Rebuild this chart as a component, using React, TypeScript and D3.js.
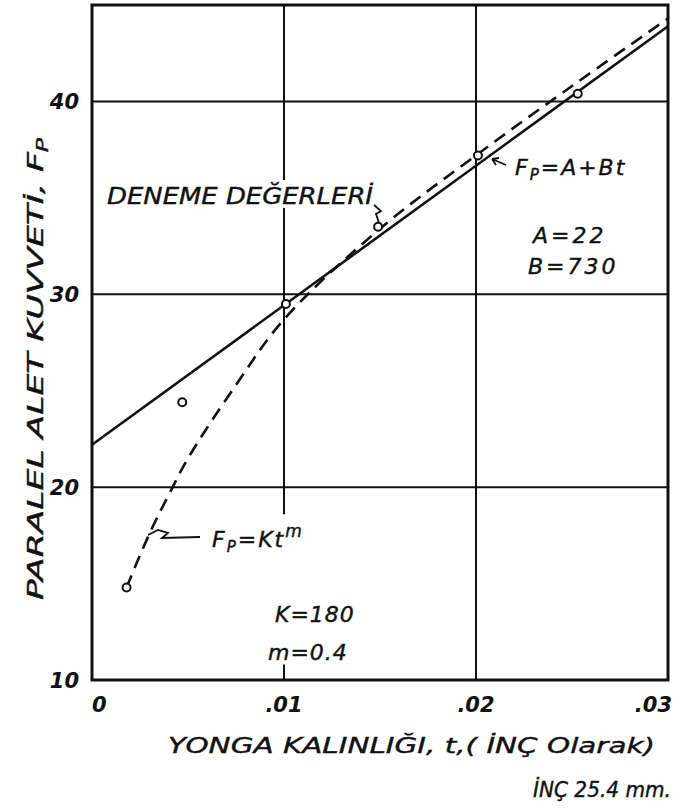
import React from "react";
import * as d3 from "d3";

const xTicks = [0, 0.01, 0.02, 0.03];
const xTickLabels = ["0", ".01", ".02", ".03"];
const yTicks = [10, 20, 30, 40];
const yTickLabels = ["10", "20", "30", "40"];
const gridX = [0.01, 0.02];
const gridY = [20, 30, 40];

// measured test points (t, Fp)
const testT = [0.0018, 0.0047, 0.0101, 0.0149, 0.0201, 0.0253];
const testF = [14.8, 24.4, 29.5, 33.5, 37.2, 40.4];

// straight fit Fp = A + B t, read at ends
const linT = [0, 0.03];
const linF = [22.2, 43.9];

// power fit Fp = K t^m
const powT = [0.0018, 0.003, 0.0042, 0.005, 0.0075, 0.01, 0.015, 0.02, 0.025, 0.03];
const powF = [14.8, 17.6, 20.0, 21.5, 25.3, 28.7, 33.4, 37.2, 40.8, 44.3];

const FONT = "'DejaVu Sans', sans-serif";

export default function App() {
  const x = d3.scaleLinear().domain([0, 0.03]).range([92, 668]);
  const y = d3.scaleLinear().domain([10, 45]).range([680, 5]);

  const line = d3
    .line<[number, number]>()
    .x((d) => x(d[0]))
    .y((d) => y(d[1]));
  const curve = d3
    .line<[number, number]>()
    .x((d) => x(d[0]))
    .y((d) => y(d[1]))
    .curve(d3.curveCatmullRom.alpha(0.5));

  const linePts = linT.map((t, i) => [t, linF[i]] as [number, number]);
  const powPts = powT.map((t, i) => [t, powF[i]] as [number, number]);

  const txt = {
    fontFamily: FONT,
    fontStyle: "italic" as const,
    fill: "#111",
  };

  return (
    <svg
      width={684}
      height={811}
      style={{ position: "absolute", left: 0, top: 0, background: "#fff" }}
    >
      <rect x={0} y={0} width={684} height={811} fill="#fff" />
      {/* grid */}
      {gridY.map((v) => (
        <line key={"gy" + v} x1={x(0)} x2={x(0.03)} y1={y(v)} y2={y(v)} stroke="#111" strokeWidth={2} />
      ))}
      <line x1={x(gridX[0])} x2={x(gridX[0])} y1={y(45)} y2={y(18.6)} stroke="#111" strokeWidth={2} />
      <line x1={x(gridX[0])} x2={x(gridX[0])} y1={y(10.8)} y2={y(10)} stroke="#111" strokeWidth={2} />
      <line x1={x(gridX[1])} x2={x(gridX[1])} y1={y(45)} y2={y(10)} stroke="#111" strokeWidth={2} />
      {/* frame */}
      <rect x={x(0)} y={y(45)} width={x(0.03) - x(0)} height={y(10) - y(45)} fill="none" stroke="#111" strokeWidth={3} />

      {/* DENEME DEĞERLERİ label with white backing */}
      <rect x={104} y={180} width={272} height={28} fill="#fff" />
      <text x={107} y={204} fontSize={23} textLength={266} lengthAdjust="spacingAndGlyphs" stroke="#111" strokeWidth={0.4} {...txt}>
        DENEME DEĞERLERİ
      </text>

      {/* fitted lines */}
      <path d={line(linePts) || ""} fill="none" stroke="#111" strokeWidth={2.6} />
      <path d={curve(powPts) || ""} fill="none" stroke="#111" strokeWidth={2.6} strokeDasharray="13 8" />

      {/* test points */}
      {testT.map((t, i) => (
        <circle key={"p" + i} cx={x(t)} cy={y(testF[i])} r={4} fill="#fff" stroke="#111" strokeWidth={2} />
      ))}

      {/* leaders */}
      <path d="M379,223 L376,214 L381,211 L374,205" fill="none" stroke="#111" strokeWidth={1.8} />
      <path d="M506,165 L492,159 M492,159 L499,158 M492,159 L496,165" fill="none" stroke="#111" strokeWidth={1.8} />
      <path d="M148,535 L158,530 L168,533 L162,538 L200,537" fill="none" stroke="#111" strokeWidth={1.8} />

      {/* annotations */}
      <g stroke="#111" strokeWidth={0.4}>
        <text x={515} y={175} fontSize={22} letterSpacing={2} {...txt}>
          F<tspan fontSize={15} dy={5}>P</tspan>
          <tspan dy={-5}>=A+Bt</tspan>
        </text>
        <text x={533} y={243} fontSize={22} letterSpacing={3} {...txt}>A=22</text>
        <text x={528} y={274} fontSize={22} letterSpacing={3} {...txt}>B=730</text>

        <text x={212} y={547} fontSize={22} letterSpacing={2} {...txt}>
          F<tspan fontSize={15} dy={5}>P</tspan>
          <tspan dy={-5}>=Kt</tspan>
          <tspan fontSize={17} dy={-10}>m</tspan>
        </text>
        <text x={275} y={622} fontSize={22} letterSpacing={1} {...txt}>K=180</text>
        <text x={268} y={660} fontSize={22} letterSpacing={1} {...txt}>m=0.4</text>
      </g>

      {/* y tick labels */}
      {yTicks.map((v, i) => (
        <text key={"yl" + v} x={79} y={y(v) + 8} fontSize={21} textAnchor="end" fontWeight="bold" {...txt}>
          {yTickLabels[i]}
        </text>
      ))}
      {/* x tick labels */}
      {xTicks.map((v, i) => (
        <text
          key={"xl" + v}
          x={i === 3 ? x(v) + 4 : x(v)}
          y={712}
          fontSize={21}
          textAnchor={i === 0 ? "start" : i === 3 ? "end" : "middle"}
          fontWeight="bold"
          {...txt}
        >
          {xTickLabels[i]}
        </text>
      ))}

      {/* axis titles */}
      <g stroke="#111" strokeWidth={0.4}>
        <text x={168} y={753} fontSize={22} textLength={487} lengthAdjust="spacingAndGlyphs" {...txt}>
          YONGA KALINLIĞI, t,( İNÇ Olarak)
        </text>
        <text x={533} y={797} fontSize={22} textLength={138} lengthAdjust="spacingAndGlyphs" {...txt}>
          İNÇ 25.4 mm.
        </text>
        <text
          transform="translate(43,600) rotate(-90)"
          x={0}
          y={0}
          fontSize={22}
          textLength={462}
          lengthAdjust="spacingAndGlyphs"
          {...txt}
        >
          PARALEL ALET KUVVETİ, F<tspan fontSize={15} dy={5}>P</tspan>
        </text>
      </g>
    </svg>
  );
}
